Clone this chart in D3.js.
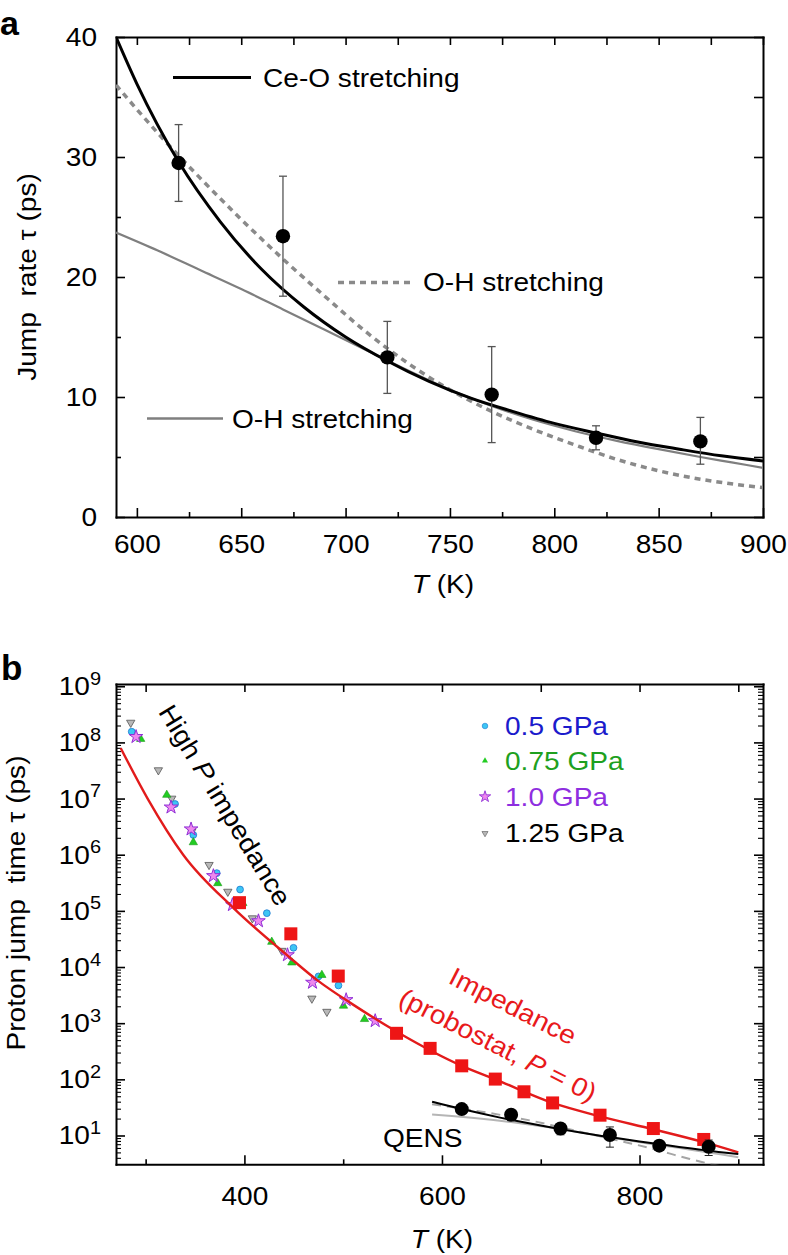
<!DOCTYPE html>
<html><head><meta charset="utf-8">
<script src="https://cdn.jsdelivr.net/npm/d3@7"></script>
<style>
body{margin:0;background:#fff;}
svg{display:block;font-family:"Liberation Sans",Arial,Helvetica,sans-serif;}
text{white-space:pre;}
</style></head><body>
<svg id="c" width="788" height="1255"></svg>
<script>
// ---------------- DATA ----------------
// Panel a: QENS jump times
const qensT   = [620, 670, 720, 770, 820, 870];
const qensTau = [29.5, 23.4, 13.3, 10.2, 6.6, 6.3];
const qensLo  = [26.3, 18.4, 10.3, 6.2, 5.6, 4.4];
const qensHi  = [32.7, 28.4, 16.3, 14.2, 7.6, 8.3];
// fitted curves
const ceoT   = [590,600,620,640,660,680,700,720,740,760,780,800,820,840,860,880,900];
const ceoTau = [40,36.1,29.6,24.6,20.6,17.5,15.0,13.0,11.3,9.9,8.8,7.8,7.0,6.25,5.65,5.1,4.67];
const ohSolidT   = [590,610,630,650,670,690,710,730,750,770,790,810,830,850,870,885,900];
const ohSolidTau = [23.7,22.2,20.6,19.0,17.3,15.6,13.9,12.2,10.6,9.25,8.1,7.15,6.35,5.65,5.0,4.55,4.1];
const ohDotT   = [590,610,630,650,670,690,710,730,750,770,790,810,830,850,870,890,900];
const ohDotTau = [36.0,32.0,28.3,24.8,21.5,18.4,15.4,12.8,10.6,8.8,7.3,6.0,4.8,3.85,3.15,2.65,2.45];
const aXTicks = [600,650,700,750,800,850,900];
const aYTicks = [0,10,20,30,40];
const aLegend = ["Ce-O stretching","O-H stretching","O-H stretching"];

// Panel b: high-pressure impedance
const p05T   = [285.9,329.8,348.3,372,395.6,422.7,449.7,475,495.2];
const p05Tau = [1.55e8,8.0e6,2.25e6,4.7e5,2.4e5,9.1e4,2.2e4,6.8e3,4.7e3];
const p075T   = [295,321.4,348.3,373,398.4,427.7,448,478.4,500.3,521.6];
const p075Tau = [1.15e8,1.16e7,1.66e6,3.1e5,1.37e5,2.8e4,1.2e4,7.2e3,2.04e3,1.18e3];
const p10T   = [290.3,325.7,346,368.6,387.9,414.2,443.6,468.9,503,532.4];
const p10Tau = [1.26e8,7.0e6,2.85e6,4.2e5,1.28e5,6.6e4,1.64e4,5.3e3,2.6e3,1.1e3];
const p125T   = [284.9,312.9,326.4,346.7,364.2,383.2,408.1,437.9,468.3,483.5];
const p125Tau = [2.25e8,3.2e7,1.0e7,2.6e6,6.6e5,2.2e5,7.4e4,1.95e4,2.75e3,1.6e3];
// probostat impedance (P = 0)
const probT   = [395,447,495,554,588,620,654,683,712,760,814,865];
const probTau = [1.4e5,3.9e4,6.9e3,660,356,174,101,60,38,23,13.3,8.5];
const impFitT   = [274.8,302,338,389,444,475,510,556,620,654,712,760,814,865,900];
const impFitTau = [7.9e7,1.0e7,1.0e6,1.12e5,1.58e4,5.6e3,2.14e3,676,174,100,38,21.9,12.9,7.6,5.0];
const bXTicks = [400,600,800];
const bXMinor = [300,500,700,900];
const bYExp = [1,2,3,4,5,6,7,8,9];
const bLegend = ["0.5 GPa","0.75 GPa","1.0 GPa","1.25 GPa"];

// ---------------- HELPERS ----------------
const SX = 1.08, FS = 26;
const svg = d3.select("#c");
function addText(parent, x, y, parts, o = {}) {
  const t = parent.append("text")
    .attr("transform", `translate(${x},${y})${o.rotate ? ` rotate(${o.rotate})` : ""} scale(${SX},1)`)
    .attr("font-size", o.size || FS)
    .attr("text-anchor", o.anchor || "start")
    .attr("fill", o.fill || "#000");
  if (o.weight) t.attr("font-weight", o.weight);
  if (o.dy) t.attr("dy", o.dy);
  parts.forEach(p => {
    const s = t.append("tspan").text(p.t);
    if (p.i) s.attr("font-style", "italic");
    if (p.sup !== undefined) s.attr("dy", p.sup).attr("font-size", p.size);
  });
  return t;
}
function styleAxis(g, opt = {}) {
  g.selectAll(".domain").attr("stroke", "#000").attr("stroke-width", 2).attr("stroke-linecap", "square");
  g.selectAll(".tick line").attr("stroke", "#000").attr("stroke-width", opt.tw || 1.6);
  g.selectAll("text").attr("font-size", FS).attr("fill", "#000")
    .attr("font-family", '"Liberation Sans",Arial,sans-serif');
  if (opt.noDomain) g.select(".domain").remove();
}
function stretchText(g, horiz) {
  g.selectAll("text").each(function () {
    const s = d3.select(this);
    if (horiz) { const x = +s.attr("x"); s.attr("x", x / SX); }
    s.attr("transform", `scale(${SX},1)`);
  });
}
const zip = (a, b) => a.map((v, i) => [v, b[i]]);

// ================= PANEL A =================
const A = {l:116, r:763, t:37, b:517};
const xA = d3.scaleLinear().domain([590, 900]).range([A.l, A.r]);
const yA = d3.scaleLinear().domain([0, 40]).range([A.b, A.t]);
const gA = svg.append("g");
svg.append("defs").append("clipPath").attr("id", "clipA")
  .append("rect").attr("x", A.l).attr("y", A.t).attr("width", A.r - A.l).attr("height", A.b - A.t);

svg.append("text").attr("x", 0).attr("y", 35).attr("font-size", 34).attr("font-weight", "bold").text("a");

// axes
const axB = gA.append("g").attr("transform", `translate(0,${A.b})`)
  .call(d3.axisBottom(xA).tickValues(aXTicks).tickSize(-9).tickSizeOuter(0).tickPadding(17.5).tickFormat(d3.format("d")));
styleAxis(axB); stretchText(axB, false);
const axBm = gA.append("g").attr("transform", `translate(0,${A.b})`)
  .call(d3.axisBottom(xA).tickValues(d3.range(625, 900, 50)).tickSize(-5).tickFormat(""));
styleAxis(axBm, {noDomain:true});
const axT = gA.append("g").attr("transform", `translate(0,${A.t})`)
  .call(d3.axisTop(xA).tickValues(d3.range(600, 901, 25)).tickSize(-8).tickSizeOuter(0).tickFormat(""));
styleAxis(axT);
const axL = gA.append("g").attr("transform", `translate(${A.l},0)`)
  .call(d3.axisLeft(yA).tickValues(aYTicks).tickSize(-9).tickSizeOuter(0).tickPadding(19).tickFormat(d3.format("d")));
styleAxis(axL); stretchText(axL, true);
const axLm = gA.append("g").attr("transform", `translate(${A.l},0)`)
  .call(d3.axisLeft(yA).tickValues([5,15,25,35]).tickSize(-5).tickFormat(""));
styleAxis(axLm, {noDomain:true});
const axR = gA.append("g").attr("transform", `translate(${A.r},0)`)
  .call(d3.axisRight(yA).tickValues(d3.range(0, 41, 5)).tickSize(-9).tickSizeOuter(0).tickFormat(""));
styleAxis(axR);

// axis titles
addText(gA, 443, 593, [{t:"T", i:true}, {t:" (K)"}], {anchor:"middle"});
addText(gA, 36, 277, [{t:"Jump  rate τ (ps)"}], {anchor:"middle", rotate:-90});

// curves
const lineA = d3.line().x(d => xA(d[0])).y(d => yA(d[1])).curve(d3.curveMonotoneX);
const cA = gA.append("g").attr("clip-path", "url(#clipA)");
cA.append("path").attr("d", lineA(zip(ohSolidT, ohSolidTau))).attr("fill", "none").attr("stroke", "#7f7f7f").attr("stroke-width", 2.2);
cA.append("path").attr("d", lineA(zip(ohDotT, ohDotTau))).attr("fill", "none").attr("stroke", "#8a8a8a").attr("stroke-width", 3.5).attr("stroke-dasharray", "6,5");
cA.append("path").attr("d", lineA(zip(ceoT, ceoTau))).attr("fill", "none").attr("stroke", "#000").attr("stroke-width", 3);

// error bars + points
const eA = gA.append("g").attr("stroke", "#555").attr("stroke-width", 1.3);
qensT.forEach((T, i) => {
  const x = xA(T);
  eA.append("line").attr("x1", x).attr("x2", x).attr("y1", yA(qensLo[i])).attr("y2", yA(qensHi[i]));
  [qensLo[i], qensHi[i]].forEach(v => eA.append("line").attr("x1", x - 4).attr("x2", x + 4).attr("y1", yA(v)).attr("y2", yA(v)));
});
gA.append("g").selectAll("circle").data(zip(qensT, qensTau)).join("circle")
  .attr("cx", d => xA(d[0])).attr("cy", d => yA(d[1])).attr("r", 7.2).attr("fill", "#000");

// legends
gA.append("line").attr("x1", 173).attr("x2", 251).attr("y1", 77.5).attr("y2", 77.5).attr("stroke", "#000").attr("stroke-width", 3);
addText(gA, 263, 87, [{t:aLegend[0]}]);
gA.append("line").attr("x1", 338).attr("x2", 410).attr("y1", 282.5).attr("y2", 282.5).attr("stroke", "#8a8a8a").attr("stroke-width", 3.5).attr("stroke-dasharray", "6,5");
addText(gA, 423, 291, [{t:aLegend[1]}]);
gA.append("line").attr("x1", 147).attr("x2", 223).attr("y1", 418.5).attr("y2", 418.5).attr("stroke", "#7f7f7f").attr("stroke-width", 2.5);
addText(gA, 232, 428, [{t:aLegend[2]}]);

// ================= PANEL B =================
const B = {l:116, r:763, t:684, b:1164.3};
const xB = d3.scaleLinear().domain([270, 925]).range([B.l, B.r]);
const yB = d3.scaleLog().domain([Math.pow(10, 0.487), Math.pow(10, 9.04)]).range([B.b, B.t]);
const gB = svg.append("g");
svg.select("defs").append("clipPath").attr("id", "clipB")
  .append("rect").attr("x", B.l).attr("y", B.t).attr("width", B.r - B.l).attr("height", B.b - B.t);

svg.append("text").attr("x", 1).attr("y", 680).attr("font-size", 35).attr("font-weight", "bold").text("b");

const majorY = bYExp.map(e => Math.pow(10, e));
const minorY = [];
for (let e = 0; e <= 8; e++) for (let m = 2; m <= 9; m++) {
  const v = m * Math.pow(10, e);
  if (v > yB.domain()[0] && v < yB.domain()[1]) minorY.push(v);
}
const bxB = gB.append("g").attr("transform", `translate(0,${B.b})`)
  .call(d3.axisBottom(xB).tickValues(bXTicks).tickSize(-9).tickSizeOuter(0).tickPadding(22).tickFormat(d3.format("d")));
styleAxis(bxB); stretchText(bxB, false);
const bxBm = gB.append("g").attr("transform", `translate(0,${B.b})`)
  .call(d3.axisBottom(xB).tickValues(bXMinor).tickSize(-5).tickFormat(""));
styleAxis(bxBm, {noDomain:true});
const bxT = gB.append("g").attr("transform", `translate(0,${B.t})`)
  .call(d3.axisTop(xB).tickValues(bXTicks.concat(bXMinor)).tickSize(-8).tickSizeOuter(0).tickFormat(""));
styleAxis(bxT);
[[B.l, d3.axisLeft], [B.r, d3.axisRight]].forEach(([px, ax]) => {
  const g1 = gB.append("g").attr("transform", `translate(${px},0)`)
    .call(ax(yB).tickValues(majorY).tickSize(-9).tickSizeOuter(0).tickFormat(""));
  styleAxis(g1);
  const g2 = gB.append("g").attr("transform", `translate(${px},0)`)
    .call(ax(yB).tickValues(minorY).tickSize(-5).tickFormat(""));
  styleAxis(g2, {noDomain:true, tw:1.1});
});
bYExp.forEach(e => {
  addText(gB, 101, yB(Math.pow(10, e)) + 9, [{t:"10"}, {t:String(e), sup:-10.5, size:18.5}], {anchor:"end"});
});

addText(gB, 442, 1248, [{t:"T", i:true}, {t:" (K)"}], {anchor:"middle"});
addText(gB, 25, 903, [{t:"Proton jump  time τ (ps)"}], {anchor:"middle", rotate:-90});

const lineB = d3.line().x(d => xB(d[0])).y(d => yB(d[1])).curve(d3.curveMonotoneX);
const cB = gB.append("g").attr("clip-path", "url(#clipB)");

// high-pressure scatter
const sym = (type, size) => d3.symbol().type(type).size(size)();
cB.append("g").selectAll("path").data(zip(p125T, p125Tau)).join("path")
  .attr("d", sym(d3.symbolTriangle, 30))
  .attr("transform", d => `translate(${xB(d[0])},${yB(d[1])}) rotate(180)`)
  .attr("fill", "#b8b8b8").attr("stroke", "#555").attr("stroke-width", 0.8);
cB.append("g").selectAll("circle").data(zip(p05T, p05Tau)).join("circle")
  .attr("cx", d => xB(d[0])).attr("cy", d => yB(d[1])).attr("r", 3.4)
  .attr("fill", "#3cc6f4").attr("stroke", "#1f78d0").attr("stroke-width", 0.8);
cB.append("g").selectAll("path").data(zip(p075T, p075Tau)).join("path")
  .attr("d", sym(d3.symbolTriangle, 30))
  .attr("transform", d => `translate(${xB(d[0])},${yB(d[1])})`)
  .attr("fill", "#22cc22").attr("stroke", "#179a17").attr("stroke-width", 0.6);
cB.append("g").selectAll("path").data(zip(p10T, p10Tau)).join("path")
  .attr("d", sym(d3.symbolStar, 58))
  .attr("transform", d => `translate(${xB(d[0])},${yB(d[1])})`)
  .attr("fill", "#ee88ee").attr("stroke", "#8f2fd6").attr("stroke-width", 1);

// impedance fit + probostat squares
cB.append("path").attr("d", lineB(zip(impFitT, impFitTau))).attr("fill", "none").attr("stroke", "#e21b1b").attr("stroke-width", 2.4);
cB.append("g").selectAll("rect").data(zip(probT, probTau)).join("rect")
  .attr("x", d => xB(d[0]) - 6.5).attr("y", d => yB(d[1]) - 6.5).attr("width", 13).attr("height", 13)
  .attr("fill", "#ee1515");

// QENS on log scale
cB.append("path").attr("d", lineB(zip(ohSolidT, ohSolidTau))).attr("fill", "none").attr("stroke", "#b5b5b5").attr("stroke-width", 2);
cB.append("path").attr("d", lineB(zip(ohDotT, ohDotTau))).attr("fill", "none").attr("stroke", "#a5a5a5").attr("stroke-width", 2).attr("stroke-dasharray", "9,6");
cB.append("path").attr("d", lineB(zip(ceoT, ceoTau))).attr("fill", "none").attr("stroke", "#000").attr("stroke-width", 2);
const eB = cB.append("g").attr("stroke", "#222").attr("stroke-width", 1);
qensT.forEach((T, i) => {
  const x = xB(T);
  eB.append("line").attr("x1", x).attr("x2", x).attr("y1", yB(qensLo[i])).attr("y2", yB(qensHi[i]));
  [qensLo[i], qensHi[i]].forEach(v => eB.append("line").attr("x1", x - 4).attr("x2", x + 4).attr("y1", yB(v)).attr("y2", yB(v)));
});
cB.append("g").selectAll("circle").data(zip(qensT, qensTau)).join("circle")
  .attr("cx", d => xB(d[0])).attr("cy", d => yB(d[1])).attr("r", 7).attr("fill", "#000");

// annotations
addText(gB, 383, 1146.5, [{t:"QENS"}]);
addText(gB, 225, 805, [{t:"High "}, {t:"P", i:true}, {t:" impedance"}], {anchor:"middle", rotate:58.7, dy:"0.35em"});
addText(gB, 513, 1006, [{t:"Impedance"}], {anchor:"middle", rotate:27, dy:"0.35em", fill:"#e8191b"});
addText(gB, 498, 1045, [{t:"(probostat, "}, {t:"P", i:true}, {t:" = 0)"}], {anchor:"middle", rotate:27, dy:"0.35em", fill:"#e8191b"});

// legend
const legY = [726, 760.7, 796.7, 833.3];
const legCol = ["#1b1bcc", "#1ea01e", "#8e2ee0", "#000"];
const lg = gB.append("g");
lg.append("circle").attr("cx", 485).attr("cy", legY[0]).attr("r", 2.8).attr("fill", "#3cc6f4").attr("stroke", "#1f78d0").attr("stroke-width", 0.6);
lg.append("path").attr("d", sym(d3.symbolTriangle, 16)).attr("transform", `translate(485,${legY[1]})`).attr("fill", "#22cc22");
lg.append("path").attr("d", sym(d3.symbolStar, 40)).attr("transform", `translate(485,${legY[2]})`).attr("fill", "#ee88ee").attr("stroke", "#8f2fd6").attr("stroke-width", 0.9);
lg.append("path").attr("d", sym(d3.symbolTriangle, 16)).attr("transform", `translate(485,${legY[3]}) rotate(180)`).attr("fill", "#b8b8b8").attr("stroke", "#555").attr("stroke-width", 0.6);
bLegend.forEach((s, i) => addText(lg, 505, legY[i] + 9, [{t:s}], {fill:legCol[i]}));
</script>
</body></html>
